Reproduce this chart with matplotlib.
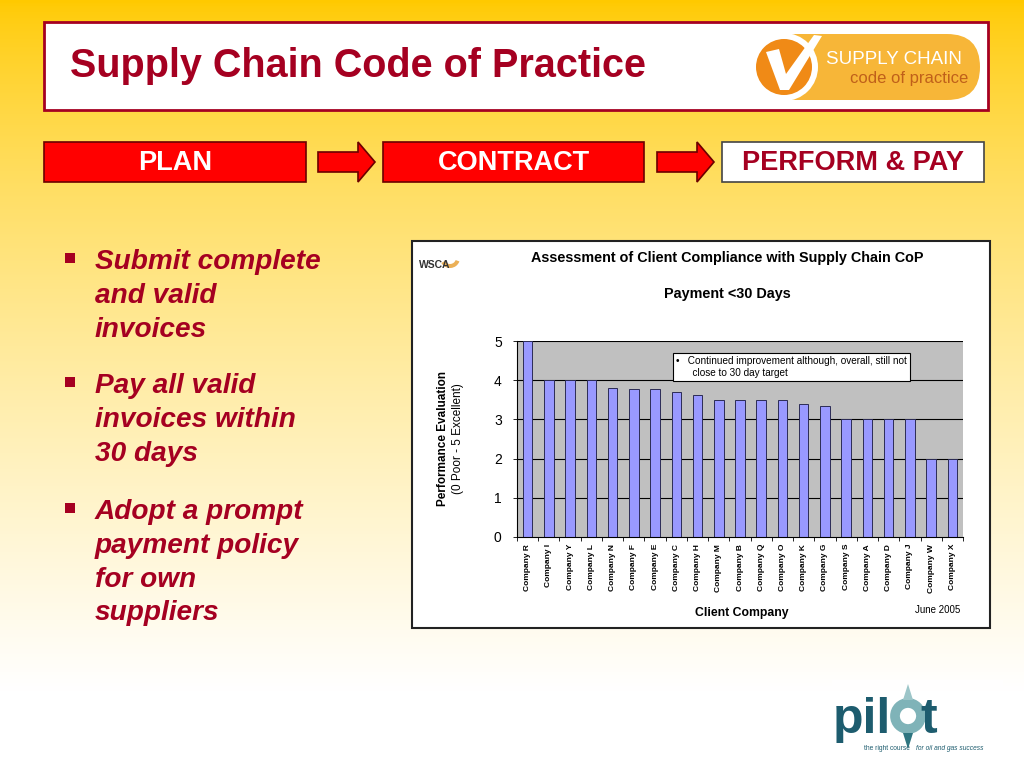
import numpy as np
import matplotlib
matplotlib.use('Agg')
from matplotlib import pyplot as plt
from matplotlib.patches import Rectangle, Polygon, FancyBboxPatch, Circle, Wedge

plt.rcParams['font.family'] = ['Liberation Sans', 'DejaVu Sans']

# chart data
companies = ['Company R', 'Company I', 'Company Y', 'Company L', 'Company N', 'Company F',
             'Company E', 'Company C', 'Company H', 'Company M', 'Company B', 'Company Q',
             'Company O', 'Company K', 'Company G', 'Company S', 'Company A', 'Company D',
             'Company J', 'Company W', 'Company X']
scores = [5, 4, 4, 4, 3.8, 3.78, 3.77, 3.7, 3.63, 3.5, 3.5, 3.5, 3.5, 3.4, 3.33,
          3, 3, 3, 3, 2, 2]
y_ticks = [0, 1, 2, 3, 4, 5]

steps = ['PLAN', 'CONTRACT', 'PERFORM & PAY']
bullets = [['Submit complete', 'and valid', 'invoices'],
           ['Pay all valid', 'invoices within', '30 days'],
           ['Adopt a prompt', 'payment policy', 'for own', 'suppliers']]

dark_red = '#A50021'
teal = '#1D5C6E'

fig = plt.figure(figsize=(10.24, 7.68), dpi=100)

# slide background in pixel coords
bg = fig.add_axes([0, 0, 1, 1])
bg.set_xlim(0, 1024)
bg.set_ylim(768, 0)
bg.axis('off')
t = np.linspace(0, 1, 256)[:, None]
top = np.array([1.0, 0.79, 0.0])
bot = np.array([1.0, 1.0, 1.0])
k = np.clip(t / 0.9, 0, 1) ** 0.72
grad = top * (1 - k[..., None]) + bot * k[..., None]
grad = np.repeat(grad, 2, axis=1)
bg.imshow(grad, extent=[0, 1024, 768, 0], aspect='auto', zorder=0)

# title box
bg.add_patch(Rectangle((44, 22), 944, 88, facecolor='white', edgecolor=dark_red, lw=2, zorder=1))
bg.text(70, 66, 'Supply Chain Code of Practice', fontsize=28.5, fontweight='bold',
        color=dark_red, va='center', ha='left', zorder=2)

# supply chain logo
bg.add_patch(FancyBboxPatch((760, 34), 220, 66, boxstyle='round,pad=0,rounding_size=33',
                            facecolor='#F7B638', edgecolor='none', zorder=2))
bg.add_patch(Circle((784, 67), 34, facecolor='white', edgecolor='none', zorder=3))
bg.add_patch(Circle((784, 67), 28, facecolor='#F08A16', edgecolor='none', zorder=4))
bg.add_patch(Polygon([(766, 52), (779, 49), (786, 74), (814, 35), (822, 36), (789, 90), (780, 90)],
                     closed=True, facecolor='white', edgecolor='none', zorder=5))
bg.text(826, 60, 'SUPPLY CHAIN', fontsize=13.5, color='white', va='center', ha='left', zorder=5)
bg.text(850, 78, 'code of practice', fontsize=12, color='#C0601A', va='center', ha='left', zorder=5)

# process boxes and arrows
boxes = [(44, 306), (383, 644), (722, 984)]
for i, (x0, x1) in enumerate(boxes):
    last = i == len(boxes) - 1
    bg.add_patch(Rectangle((x0, 142), x1 - x0, 40, facecolor='white' if last else '#FF0000',
                           edgecolor='#444444' if last else '#6B0000', lw=1.2, zorder=2))
    bg.text((x0 + x1) / 2, 163, steps[i], fontsize=19.5, fontweight='bold',
            color=dark_red if last else 'white', ha='center', va='center', zorder=3)
for ax0 in (318, 657):
    ax1 = ax0 + 57
    bg.add_patch(Polygon([(ax0, 152), (ax1 - 17, 152), (ax1 - 17, 142), (ax1, 162),
                          (ax1 - 17, 182), (ax1 - 17, 172), (ax0, 172)], closed=True,
                         facecolor='#FF0000', edgecolor='#6B0000', lw=1.2, zorder=2))

# bullets
ys = [[262, 296, 330], [386, 420, 454], [512, 546, 580, 613]]
for lines, yl in zip(bullets, ys):
    bg.add_patch(Rectangle((65, yl[0] - 9), 10, 10, facecolor=dark_red, edgecolor='none', zorder=2))
    for s, y in zip(lines, yl):
        bg.text(95, y, s, fontsize=20.2, fontweight='bold', style='italic', color=dark_red,
                ha='left', va='center', zorder=2)

# chart frame
bg.add_patch(Rectangle((412, 241), 578, 387, facecolor='white', edgecolor='#222222', lw=1.5, zorder=1))
bg.add_patch(Wedge((450, 258), 10, 20, 150, width=4, facecolor='#E8A23A', edgecolor='none',
                   zorder=2, alpha=0.85))
bg.text(419, 265, 'WSCA', fontsize=7.5, fontweight='bold', color='#333333', ha='left', va='center', zorder=3)
bg.text(727, 258, 'Assessment of Client Compliance with Supply Chain CoP', fontsize=10.4,
        fontweight='bold', ha='center', va='center', zorder=2)
bg.text(727, 294, 'Payment <30 Days', fontsize=10.4, fontweight='bold', ha='center', va='center', zorder=2)
bg.text(443, 439, 'Performance Evaluation', fontsize=8.5, fontweight='bold', rotation=90,
        ha='center', va='center', zorder=2)
bg.text(458, 439, '(0 Poor - 5 Excellent)', fontsize=8.5, rotation=90, ha='center', va='center', zorder=2)
bg.text(742, 613, 'Client Company', fontsize=8.8, fontweight='bold', ha='center', va='center', zorder=2)
bg.text(938, 610, 'June 2005', fontsize=7, ha='center', va='center', zorder=2)

# pilot logo
bg.add_patch(Rectangle((832, 680), 171, 72, facecolor='white', edgecolor='none', alpha=0.85, zorder=1))
bg.text(833, 733, 'pil', fontsize=36, fontweight='bold', color=teal, ha='left', va='baseline', zorder=2)
bg.add_patch(Circle((908, 716), 13, facecolor='none', edgecolor='#7FB3B8', lw=7, zorder=2))
bg.add_patch(Polygon([(908, 684), (913, 700), (903, 700)], closed=True, facecolor='#9CC5C8', zorder=2))
bg.add_patch(Polygon([(908, 749), (913, 733), (903, 733)], closed=True, facecolor='#2E7580', zorder=2))
bg.text(920, 733, 't', fontsize=36, fontweight='bold', color=teal, ha='left', va='baseline', zorder=2)
bg.text(864, 748, 'the right course', fontsize=4.8, color=teal, ha='left', va='center', zorder=3)
bg.text(916, 748, 'for oil and gas success', fontsize=4.8, style='italic', color=teal,
        ha='left', va='center', zorder=3)

# bar chart
ax = fig.add_axes([517 / 1024, 1 - 537 / 768, 446 / 1024, 196 / 768])
ax.set_facecolor('#C0C0C0')
x = np.arange(len(companies))
for yv in y_ticks[1:]:
    ax.axhline(yv, color='black', lw=0.8, zorder=1)
ax.bar(x, scores, width=0.45, color='#9999FF', edgecolor='#2B2B55', lw=0.7, zorder=2)
ax.set_xlim(-0.5, len(companies) - 0.5)
ax.set_ylim(0, 5)
ax.set_yticks(y_ticks)
ax.set_yticklabels([str(v) for v in y_ticks], fontsize=10)
ax.set_xticks(x)
ax.set_xticklabels(companies, rotation=90, fontsize=6, fontweight='bold')
ax.set_xticks(np.arange(-0.5, len(companies), 1), minor=True)
ax.tick_params(axis='x', which='major', length=0, pad=5)
ax.tick_params(axis='x', which='minor', length=3, width=0.6)
ax.tick_params(axis='y', length=3, width=0.6, pad=8)
for side in ('top', 'right'):
    ax.spines[side].set_visible(False)
ax.spines['left'].set_linewidth(0.8)
ax.spines['bottom'].set_linewidth(0.8)

ax.text(0.357, 0.925, '\u2022   Continued improvement although, overall, still not\n      close to 30 day target',
        transform=ax.transAxes, fontsize=7.2, ha='left', va='top', linespacing=1.3,
        bbox=dict(boxstyle='square,pad=0.3', facecolor='white', edgecolor='black', lw=0.8), zorder=3)

fig.savefig('out.png', dpi=100)
